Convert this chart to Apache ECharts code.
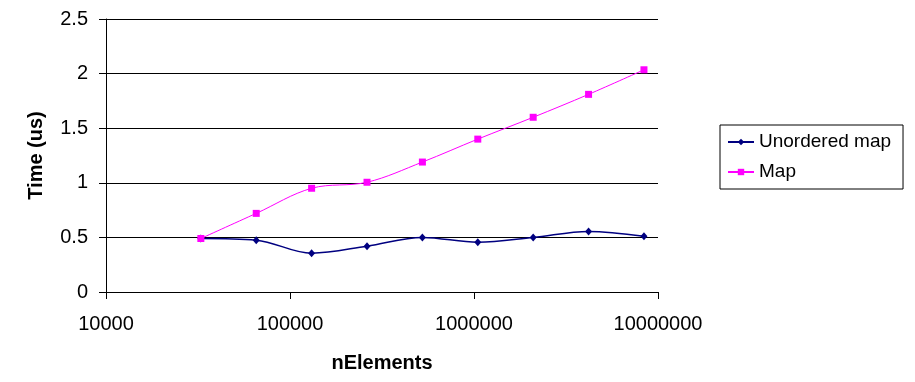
<!DOCTYPE html>
<html>
<head>
<meta charset="utf-8">
<script src="https://cdn.jsdelivr.net/npm/echarts@6/dist/echarts.min.js"></script>
<style>
html,body{margin:0;padding:0;background:#fff;}
#chart{width:915px;height:382px;}
</style>
</head>
<body>
<div id="chart"></div>
<script>
var nElements = [32768, 65536, 131072, 262144, 524288, 1048576, 2097152, 4194304, 8388608];
var unorderedMap = [0.49, 0.475, 0.355, 0.42, 0.50, 0.455, 0.50, 0.555, 0.51];
var mapTimes = [0.49, 0.72, 0.95, 1.005, 1.19, 1.40, 1.60, 1.81, 2.035];
var seriesNames = ['Unordered map', 'Map'];

function pairs(xs, ys) { return xs.map(function (x, i) { return [x, ys[i]]; }); }

var FONT = '"Liberation Sans", Arial, sans-serif';
var chart = echarts.init(document.getElementById('chart'), null, {renderer: 'canvas'});
chart.setOption({
  animation: false,
  backgroundColor: '#fff',
  grid: {left: 106, right: 257, top: 19, bottom: 90, containLabel: false},
  xAxis: {
    type: 'log', logBase: 10, min: 10000, max: 10000000,
    name: 'nElements', nameLocation: 'middle', nameGap: 61,
    nameTextStyle: {fontFamily: FONT, fontSize: 20, fontWeight: 'bold', color: '#000'},
    axisLine: {show: true, lineStyle: {color: '#000', width: 1}},
    axisTick: {show: true, inside: false, length: 7, lineStyle: {color: '#000'}},
    axisLabel: {fontFamily: FONT, fontSize: 20, color: '#000', margin: 22,
      formatter: function (v) { return String(Math.round(v)); }},
    splitLine: {show: false},
    minorTick: {show: false}
  },
  yAxis: {
    type: 'value', min: 0, max: 2.5, interval: 0.5,
    name: 'Time (us)', nameLocation: 'middle', nameGap: 60, nameRotate: 90,
    nameTextStyle: {fontFamily: FONT, fontSize: 20, fontWeight: 'bold', color: '#000'},
    axisLine: {show: true, lineStyle: {color: '#000', width: 1}},
    axisTick: {show: true, inside: false, length: 7, lineStyle: {color: '#000'}},
    axisLabel: {fontFamily: FONT, fontSize: 20, color: '#000', margin: 18},
    splitLine: {show: true, lineStyle: {color: '#000', width: 1}}
  },
  legend: {
    orient: 'vertical', left: 720, top: 125,
    padding: [7, 12, 7, 7], itemGap: 10, itemWidth: 26, itemHeight: 8,
    borderColor: '#000', borderWidth: 1, borderRadius: 0,
    textStyle: {fontFamily: FONT, fontSize: 19, color: '#000', lineHeight: 20},
    data: seriesNames
  },
  series: [
    {
      name: seriesNames[0], type: 'line', smooth: 0.35,
      data: pairs(nElements, unorderedMap),
      symbol: 'diamond', symbolSize: [7, 8],
      itemStyle: {color: '#000080'},
      lineStyle: {color: '#000080', width: 1.5}
    },
    {
      name: seriesNames[1], type: 'line', smooth: 0.35,
      data: pairs(nElements, mapTimes),
      symbol: 'rect', symbolSize: 7,
      itemStyle: {color: '#FF00FF'},
      lineStyle: {color: '#FF00FF', width: 1}
    }
  ]
});
</script>
</body>
</html>
